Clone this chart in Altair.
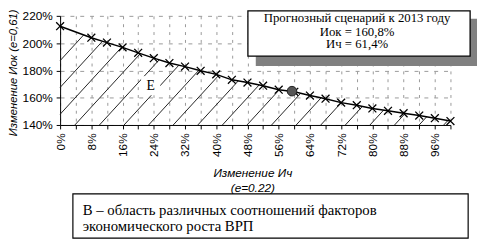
import altair as alt
import pandas as pd
import numpy as np

# values
x_pct = [0, 8, 12, 16, 20, 24, 28, 32, 36, 40, 44, 48, 52, 56, 60, 64, 68, 72, 76, 80, 84, 88, 92, 96, 100]
iok_pct = [212.4, 204.0, 200.4, 196.9, 192.9, 189.0, 185.4, 182.8, 179.7, 177.1, 173.1, 171.1, 168.8,
           165.9, 164.3, 161.6, 159.3, 156.4, 154.5, 152.1, 150.4, 148.6, 146.9, 145.0, 142.9]
forecast_x = [59.4]
forecast_y = [164.8]
area_label = ["E"]
area_label_x = [23.2]
area_label_y = [168.8]
box_lines = ["Прогнозный сценарий к 2013 году", "Иок = 160,8%", "Ич = 61,4%"]
note_lines = ["В – область различных соотношений факторов", "экономического роста ВРП"]
x_title = ["Изменение Ич", "(e=0.22)"]
y_title = "Изменение Иок (е=0,61)"
x_ticks = list(range(0, 101, 4))
y_ticks = [140, 160, 180, 200, 220]

curve = pd.DataFrame({"x": x_pct, "y": iok_pct})

# hatching under the curve (decoration)
hatch_slope = 3.12
hatch_step = 6.3
hatch_start = 3.78
rows = []
for k in range(-3, 16):
    c = hatch_start + hatch_step * k
    s0 = max(c, 0.0)
    if s0 >= 100:
        continue
    y0 = 140 + hatch_slope * (s0 - c)
    if y0 >= np.interp(s0, x_pct, iok_pct):
        continue
    xs = np.linspace(s0, 100, 4001)
    diff = np.interp(xs, x_pct, iok_pct) - (140 + hatch_slope * (xs - c))
    idx = np.where(diff <= 0)[0]
    xe = xs[idx[0]] if len(idx) else 100.0
    ye = 140 + hatch_slope * (xe - c)
    rows.append({"x": s0, "y": y0, "x2": xe, "y2": ye})
hatch = pd.DataFrame(rows)

xs_scale = alt.Scale(domain=[0, 100], nice=False, zero=False)
ys_scale = alt.Scale(domain=[140, 220], nice=False, zero=False)

FONT = "Liberation Sans"
SERIF = "Liberation Serif"

x_axis = alt.Axis(values=x_ticks, title=None, labelAngle=270,
                  labelExpr="datum.value % 8 == 0 && datum.value <= 96 ? datum.value + '%' : ''",
                  labelOverlap=False, labelFlush=False, labelFont=FONT, labelFontSize=12,
                  labelColor="black", tickColor="black", tickSize=4, labelPadding=4,
                  domainColor="black", grid=True, gridColor="#999", gridDash=[3, 5])
y_axis = alt.Axis(values=y_ticks, title=None, labelExpr="datum.value + '%'",
                  labelOverlap=False, labelFlush=False,
                  labelFont=FONT, labelFontSize=12, labelColor="black", tickColor="black",
                  tickSize=4, labelPadding=4, domainColor="black", grid=True,
                  gridColor="#999", gridDash=[4, 6])

X = lambda f: alt.X(f, scale=xs_scale, axis=x_axis)
Y = lambda f: alt.Y(f, scale=ys_scale, axis=y_axis)

hatch_layer = alt.Chart(hatch).mark_rule(color="#222", strokeWidth=1).encode(
    x=X("x:Q"), y=Y("y:Q"), x2="x2:Q", y2="y2:Q",
)

lab_df = pd.DataFrame({"x": area_label_x, "y": area_label_y, "t": area_label})
lab_bg = alt.Chart(lab_df).mark_square(color="white", opacity=1, size=380).encode(
    x=X("x:Q"), y=Y("y:Q"))
lab_txt = alt.Chart(lab_df).mark_text(font=SERIF, fontSize=14, color="black").encode(
    x=X("x:Q"), y=Y("y:Q"), text="t:N")

line_top = alt.Chart(curve).mark_line(color="black", strokeWidth=1.5).encode(
    x=X("x:Q"), y=Y("y:Q"))

markers = alt.Chart(curve).mark_point(shape="M-1,-1L1,1M1,-1L-1,1", size=64, filled=False,
                                      color="black", strokeWidth=1.3, opacity=1).encode(
    x=X("x:Q"), y=Y("y:Q"))

dot = alt.Chart(pd.DataFrame({"x": forecast_x, "y": forecast_y})).mark_circle(
    size=95, color="#555", stroke="#222", strokeWidth=1, opacity=1).encode(
    x=X("x:Q"), y=Y("y:Q"))

one = pd.DataFrame({"a": [0]})

def rect(x1, x2, y1, y2, fill, stroke=None, sw=0):
    kw = dict(fill=fill)
    if stroke:
        kw.update(stroke=stroke, strokeWidth=sw)
    return alt.Chart(one).mark_rect(**kw).encode(
        x=alt.value(x1), x2=alt.value(x2), y=alt.value(y1), y2=alt.value(y2))

def text(t, x, y, font=FONT, size=12, align="center", italic=False, angle=0):
    kw = dict(font=font, fontSize=size, align=align, baseline="middle", color="black")
    if italic:
        kw["fontStyle"] = "italic"
    if angle:
        kw["angle"] = angle
    return alt.Chart(pd.DataFrame({"t": [t]})).mark_text(**kw).encode(
        x=alt.value(x), y=alt.value(y), text="t:N")

shadow = rect(199, 424, 3, 51, "#808080")
box = rect(191, 417, -5, 41, "white", "black", 1.3)
box_txt = [text(t, 302, yy, font=SERIF, size=13) for t, yy in zip(box_lines, [2, 16, 29])]

note_box = rect(13, 415, 181, 226, "white", "black", 1.2)
note_txt = [text(t, 23, yy, font=SERIF, size=15, align="left") for t, yy in zip(note_lines, [198, 214])]

xt = [text(t, 196, yy, italic=True) for t, yy in zip(x_title, [160, 175])]
yt = text(y_title, -47, 58, size=11.5, italic=True, angle=270)

chart = alt.layer(
    hatch_layer, lab_bg, lab_txt, line_top, markers, dot,
    shadow, box, *box_txt, note_box, *note_txt, *xt, yt,
).properties(
    width=397, height=111,
    autosize=alt.AutoSizeParams(type="none"),
    padding={"left": 53, "top": 6, "right": 27, "bottom": 116},
).configure_view(strokeWidth=0)

chart.save("out.html", embed_options={"renderer": "svg", "actions": False})
